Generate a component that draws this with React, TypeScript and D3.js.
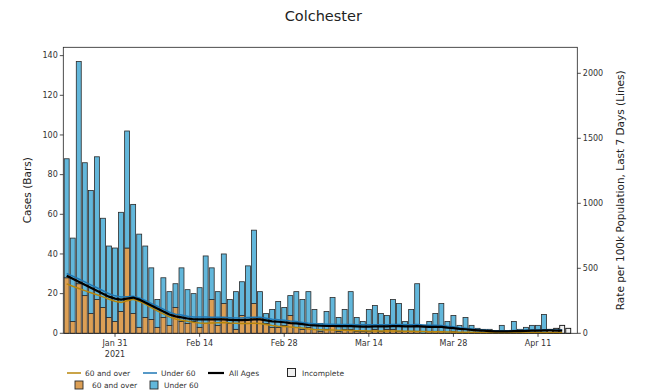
import React from "react";
import * as d3 from "d3";

const startDate = "2021-01-23";
const over60: number[] = [28,6,25,19,10,17,13,8,6,11,43,10,3,8,7,3,8,4,13,6,5,6,3,5,17,4,15,5,2,9,7,15,8,5,3,3,4,9,3,2,3,2,1,2,4,1,2,2,1,1,1,2,1,2,2,1,1,1,1,0,1,1,1,0,1,0,0,0,0,0,0,0,0,0,0,0,0,0,0,0,0,0,0,0];
const totals: number[] = [88,48,137,86,72,89,58,44,43,61,102,65,50,44,33,17,28,21,25,33,22,20,23,39,33,21,40,17,21,26,34,52,21,10,12,16,13,19,21,17,21,12,5,11,18,8,12,21,8,6,12,14,10,9,17,15,6,12,25,4,6,10,15,6,9,4,8,4,2.5,2,2,1,4,1,6,2,3,4,4,9.5,2,2.5,4,2.5];
const under60: number[] = totals.map((t, i) => Math.max(0, t - over60[i]));
const incompleteFrom = 80;

const rateAll: number[] = [443,420,397,374,351,328,305,282,267,259,267,275,259,237,214,191,168,145,130,122,114,107,107,107,107,107,107,104,101,101,104,107,107,99,92,89,85,79,76,70,64,61,58,56,56,55,55,55,53,52,52,53,53,53,55,55,53,53,55,52,49,49,49,43,40,34,31,27,23,20,17,15,15,15,17,17,18,20,21,22,22,21,20];
const rateUnder60: number[] = [460,440,418,396,372,350,327,304,288,280,282,285,272,252,230,208,186,162,147,140,132,126,125,126,124,124,123,120,118,118,121,124,124,116,108,104,100,94,90,84,78,74,71,69,69,68,68,68,66,65,65,66,66,66,68,68,66,66,68,64,61,61,60,54,50,43,39,34,29,25,21,19,19,19,21,21,23,25,26,27,27,26,25];
const rateOver60: number[] = [380,362,345,328,312,296,280,262,246,238,250,262,246,224,198,172,150,126,110,100,92,84,80,78,80,82,84,80,78,76,76,78,76,68,60,54,52,48,44,40,34,30,28,26,25,24,23,22,20,20,18,18,17,17,18,18,16,15,14,13,12,12,11,10,10,9,8,8,7,6,5,5,5,5,6,6,6,7,7,7,7,6,6];

const xTicks = ["2021-01-31","2021-02-14","2021-02-28","2021-03-14","2021-03-28","2021-04-11"];
const xTickLabels = ["Jan 31","Feb 14","Feb 28","Mar 14","Mar 28","Apr 11"];
const leftTicks = [0,20,40,60,80,100,120,140];
const rightTicks = [0,500,1000,1500,2000];

const W = 648, H = 391;
const L = 63.3, R = 577.3, T = 47.3, B = 333.3;
const FONT = "DejaVu Sans, sans-serif";
const C_ORANGE = "#dc9f55";
const C_BLUE = "#62b7db";
const C_ORANGE_LINE = "#b8860b";
const C_BLUE_LINE = "#1f77b4";
const C_INC = "#f0f0f0";

function parse(s: string): Date {
  const [y, m, d] = s.split("-").map(Number);
  return new Date(Date.UTC(y, m - 1, d));
}

export default function App() {
  const d0 = parse(startDate);
  const dates = totals.map((_, i) => d3.utcDay.offset(d0, i));
  const x = d3.scaleUtc()
    .domain([new Date(d0.getTime() - 0.56 * 864e5), new Date(dates[dates.length - 1].getTime() + 1.5 * 864e5)])
    .range([L, R]);
  const y = d3.scaleLinear().domain([0, 144.2]).range([B, T]);
  const yr = d3.scaleLinear().domain([0, 2200]).range([B, T]);
  const dayW = x(d3.utcDay.offset(d0, 1)) - x(d0);
  const bw = dayW * 0.82;

  const line = (arr: number[]) =>
    d3.line<number>().x((_, i) => x(dates[i])).y((v) => yr(v)).curve(d3.curveLinear)(arr) || "";

  return (
    <svg width={W} height={H} style={{ position: "absolute", left: 0, top: 0, background: "#fff" }} fontFamily={FONT}>
      <text x={(L + R) / 2 + 3} y={21} textAnchor="middle" fontSize={14.5} fill="#222">Colchester</text>
      {/* bars */}
      <g>
        {dates.map((d, i) => {
          const cx = x(d);
          const inc = i >= incompleteFrom;
          if (inc) {
            return (
              <rect key={i} x={cx - bw / 2} y={y(totals[i])} width={bw} height={B - y(totals[i])}
                fill={C_INC} stroke="#111" strokeWidth={0.9} />
            );
          }
          return (
            <g key={i}>
              <rect x={cx - bw / 2} y={y(over60[i])} width={bw} height={B - y(over60[i])}
                fill={C_ORANGE} stroke="#2a2a2a" strokeWidth={0.8} />
              <rect x={cx - bw / 2} y={y(over60[i] + under60[i])} width={bw} height={y(over60[i]) - y(over60[i] + under60[i])}
                fill={C_BLUE} stroke="#2a2a2a" strokeWidth={0.8} />
            </g>
          );
        })}
      </g>
      {/* lines */}
      <path d={line(rateOver60)} fill="none" stroke={C_ORANGE_LINE} strokeWidth={1.5} />
      <path d={line(rateUnder60)} fill="none" stroke={C_BLUE_LINE} strokeWidth={1.5} />
      <path d={line(rateAll)} fill="none" stroke="#000" strokeWidth={2.2} />
      {/* frame */}
      <rect x={L} y={T} width={R - L} height={B - T} fill="none" stroke="#222" strokeWidth={0.8} />
      {/* left ticks */}
      {leftTicks.map((t) => (
        <g key={"l" + t}>
          <line x1={L - 3.5} x2={L} y1={y(t)} y2={y(t)} stroke="#222" strokeWidth={0.8} />
          <text x={L - 5.5} y={y(t) + 2.8} textAnchor="end" fontSize={8} fill="#333">{t}</text>
        </g>
      ))}
      {/* right ticks */}
      {rightTicks.map((t) => (
        <g key={"r" + t}>
          <line x1={R} x2={R + 3.5} y1={yr(t)} y2={yr(t)} stroke="#222" strokeWidth={0.8} />
          <text x={R + 5.5} y={yr(t) + 2.8} textAnchor="start" fontSize={8} fill="#333">{t}</text>
        </g>
      ))}
      {/* x ticks */}
      {xTicks.map((s, i) => {
        const px = x(parse(s));
        return (
          <g key={s}>
            <line x1={px} x2={px} y1={B} y2={B + 3.5} stroke="#222" strokeWidth={0.8} />
            <text x={px} y={B + 12.5} textAnchor="middle" fontSize={8} fill="#333">{xTickLabels[i]}</text>
            {i === 0 && <text x={px} y={B + 23.5} textAnchor="middle" fontSize={8} fill="#333">2021</text>}
          </g>
        );
      })}
      <text transform={`translate(31,${(T + B) / 2}) rotate(-90)`} textAnchor="middle" fontSize={10.5} fill="#222">Cases (Bars)</text>
      <text transform={`translate(624,${(T + B) / 2}) rotate(-90)`} textAnchor="middle" fontSize={10.5} fill="#222">Rate per 100k Population, Last 7 Days (Lines)</text>
      {/* legend */}
      <g fontSize={7.5} fill="#333">
        <line x1={67} x2={81} y1={373} y2={373} stroke={C_ORANGE_LINE} strokeWidth={1.5} />
        <text x={85} y={375.7}>60 and over</text>
        <line x1={143} x2={157} y1={373} y2={373} stroke={C_BLUE_LINE} strokeWidth={1.5} />
        <text x={161} y={375.7}>Under 60</text>
        <line x1={208} x2={224} y1={373} y2={373} stroke="#000" strokeWidth={2.2} />
        <text x={229} y={375.7}>All Ages</text>
        <rect x={287.5} y={368.5} width={8} height={8} fill={C_INC} stroke="#111" strokeWidth={0.9} />
        <text x={302} y={375.7}>Incomplete</text>
        <rect x={75} y={381} width={8} height={8} fill={C_ORANGE} stroke="#2a2a2a" strokeWidth={0.9} />
        <text x={92} y={388}>60 and over</text>
        <rect x={150} y={381} width={8} height={8} fill={C_BLUE} stroke="#2a2a2a" strokeWidth={0.9} />
        <text x={164} y={388}>Under 60</text>
      </g>
    </svg>
  );
}
